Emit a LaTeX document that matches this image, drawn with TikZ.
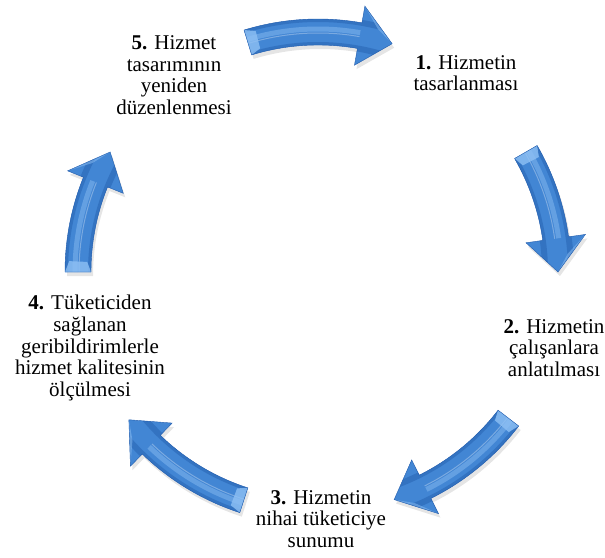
\documentclass[tikz,border=0pt]{standalone}
\usepackage{fontspec}
\setmainfont{Liberation Serif}
\usetikzlibrary{calc}

\definecolor{arrowMid}{RGB}{66,134,212}
\definecolor{arrowDark}{RGB}{34,92,172}
\definecolor{arrowLight}{RGB}{142,192,244}

% curved cycle arrow: #1 = centre angle, #2 = half sweep (screen angles, clockwise)
\newcommand\cyclearrow[2]{%
  \pgfmathsetmacro\ta{#1-#2}%
  \pgfmathsetmacro\tb{#1+#2-8}%
  \pgfmathsetmacro\tc{#1+#2}%
  \pgfmathsetmacro\tt{#1-#2+2.5}%
  \def\arrowpath{(\ta:253) arc[start angle=\ta,end angle=\tb,radius=253]
    -- (\tb:270) -- (\tc:240) -- (\tb:210) -- (\tb:227)
    arc[start angle=\tb,end angle=\ta,radius=227] -- cycle}%
  \begin{scope}[shift={(318,272)}]
    \fill[black,opacity=.10,shift={(2,4)}] \arrowpath;
    \fill[arrowMid] \arrowpath;
    \begin{scope}
      \clip \arrowpath;
      \draw[arrowDark,opacity=.45,line width=6]
        (\ta:253) arc[start angle=\ta,end angle=\tc,radius=253];
      \draw[arrowDark,opacity=.45,line width=6]
        (\ta:227) arc[start angle=\ta,end angle=\tc,radius=227];
      \draw[arrowLight,opacity=.45,line width=5]
        (\ta:243) arc[start angle=\ta,end angle=\tb,radius=243];
      \draw[white,opacity=.3,line width=1]
        (\ta:239) arc[start angle=\ta,end angle=\tb,radius=239];
      \fill[arrowLight,opacity=.8] (\ta:253) -- (\tt:249) -- (\tt:231) -- (\ta:227) -- cycle;
      \fill[arrowLight,opacity=.5] (\tb:270) -- (\tc:240) -- ($(\tb:262)!0.5!(\tc:240)$) -- cycle;
    \end{scope}
    \draw[arrowDark,line width=.4] \arrowpath;
  \end{scope}}

\tikzset{
  lbl/.style={align=center,inner sep=0pt,font=\fontsize{21}{21.6}\selectfont}
}

\begin{document}
\begin{tikzpicture}[x=1pt,y=-1pt]
  \useasboundingbox (0,0) rectangle (605,557);

  % the five arrows of the cycle
  \cyclearrow{-89.5}{17.5}
  \cyclearrow{-15}{15}
  \cyclearrow{54.5}{17}
  \cyclearrow{125}{17}
  \cyclearrow{195}{15}

  % step labels
  \node[lbl] (s1) at (466,73) {\textbf{1.} Hizmetin\\tasarlanması};
  \node[lbl] (s2) at (554,348) {\textbf{2.} Hizmetin\\çalışanlara\\anlatılması};
  \node[lbl] (s3) at (321,519) {\textbf{3.} Hizmetin\\nihai tüketiciye\\sunumu};
  \node[lbl] (s4) at (90,348) {\textbf{4.} Tüketiciden\\sağlanan\\geribildirimlerle\\hizmet kalitesinin\\ölçülmesi};
  \node[lbl] (s5) at (174,75) {\textbf{5.} Hizmet\\tasarımının\\yeniden\\düzenlenmesi};
\end{tikzpicture}
\end{document}
